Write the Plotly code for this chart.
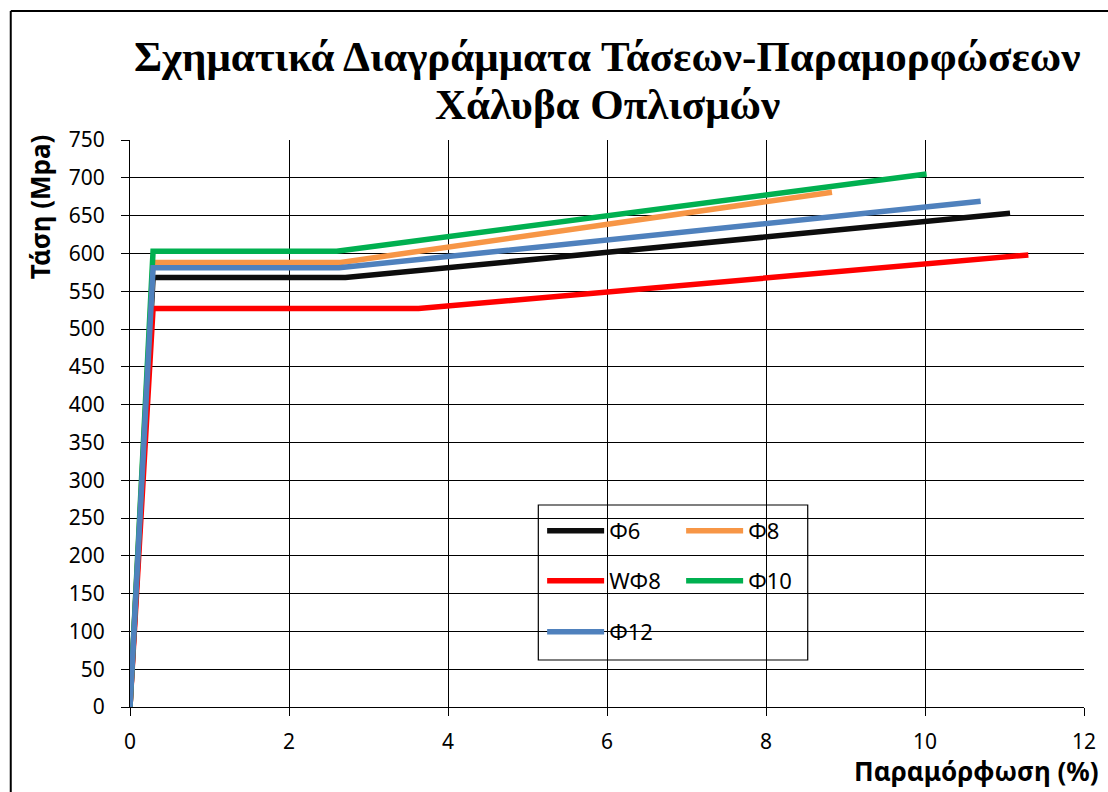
import plotly.graph_objects as go

# Stress-strain curves of reinforcing steel (bilinear with yield plateau)
series_names = ["Φ6", "Φ8", "WΦ8", "Φ10", "Φ12"]
series_colors = ["#0d0d0d", "#f79646", "#ff0000", "#00b050", "#4f81bd"]

# strain (%) at: origin, yield, end of plateau, ultimate
strain_phi6 = [0, 0.29, 2.71, 11.07]
strain_phi8 = [0, 0.29, 2.65, 8.83]
strain_wphi8 = [0, 0.29, 3.63, 11.30]
strain_phi10 = [0, 0.29, 2.60, 10.02]
strain_phi12 = [0, 0.29, 2.63, 10.70]

# stress (MPa) at the same points
stress_phi6 = [0, 568, 568, 653]
stress_phi8 = [0, 588, 588, 681]
stress_wphi8 = [0, 527, 527, 598]
stress_phi10 = [0, 603, 603, 705]
stress_phi12 = [0, 581, 581, 669]

x_ticks = [0, 2, 4, 6, 8, 10, 12]
y_ticks = list(range(0, 751, 50))

strains = [strain_phi6, strain_phi8, strain_wphi8, strain_phi10, strain_phi12]
stresses = [stress_phi6, stress_phi8, stress_wphi8, stress_phi10, stress_phi12]
legend_ids = ["legend", "legend", "legend2", "legend2", "legend3"]

FONT = "Noto Sans"

fig = go.Figure()
for name, color, xs, ys, lg in zip(series_names, series_colors, strains, stresses, legend_ids):
    fig.add_trace(go.Scatter(
        x=xs, y=ys, mode="lines", name=name,
        line=dict(color=color, width=5.5),
        legend=lg,
    ))

legend_common = dict(
    orientation="h", xanchor="left", yanchor="middle", x=0.432,
    bgcolor="rgba(0,0,0,0)", borderwidth=0,
    font=dict(family=FONT, size=22, color="#000000"),
    entrywidth=67, entrywidthmode="pixels", itemwidth=57,
)

fig.update_layout(
    width=1108, height=792,
    margin=dict(l=130, r=18, t=140, b=85),
    paper_bgcolor="white", plot_bgcolor="white",
    showlegend=True,
    legend=dict(legend_common, y=0.3104),
    legend2=dict(legend_common, y=0.2222),
    legend3=dict(legend_common, y=0.1323),
    xaxis=dict(
        range=[0, 12], tickvals=x_ticks, ticktext=[str(v) for v in x_ticks],
        showgrid=True, gridcolor="#000000", gridwidth=1,
        showline=True, linecolor="#000000", linewidth=1,
        ticks="outside", ticklen=8, tickcolor="#000000",
        ticklabelstandoff=8,
        tickfont=dict(family=FONT, size=21, color="#000000"),
        zeroline=False, mirror=False,
    ),
    yaxis=dict(
        range=[0, 750], tickvals=y_ticks, ticktext=[str(v) for v in y_ticks],
        showgrid=True, gridcolor="#000000", gridwidth=1,
        showline=True, linecolor="#000000", linewidth=1,
        ticks="outside", ticklen=8, tickcolor="#000000",
        ticklabelstandoff=12,
        tickfont=dict(family=FONT, size=21, color="#000000"),
        zeroline=False,
    ),
    annotations=[
        dict(text="<b>Σχηματικά Διαγράμματα Τάσεων-Παραμορφώσεων</b>",
             xref="paper", yref="paper", x=0.5, y=(707 - 57) / 567,
             xanchor="center", yanchor="middle", showarrow=False,
             font=dict(family="Liberation Serif", size=43, color="#000000")),
        dict(text="<b>Χάλυβα Οπλισμών</b>",
             xref="paper", yref="paper", x=0.5, y=(707 - 105) / 567,
             xanchor="center", yanchor="middle", showarrow=False,
             font=dict(family="Liberation Serif", size=43, color="#000000")),
        dict(text="<b>Τάση (Mpa)</b>", textangle=-90, xref="paper", yref="paper",
             x=-0.094, y=0.882, xanchor="center", yanchor="middle", showarrow=False,
             font=dict(family=FONT, size=26, color="#000000")),
        dict(text="<b>Παραμόρφωση (%)</b>", xref="paper", yref="paper",
             x=1.018, y=-0.112, xanchor="right", yanchor="middle", showarrow=False,
             font=dict(family=FONT, size=26, color="#000000")),
    ],
    shapes=[
        # legend frame
        dict(type="rect", xref="paper", yref="paper",
             x0=0.428, x1=0.7104, y0=0.0829, y1=0.3563,
             line=dict(color="#000000", width=1.2), fillcolor="white", layer="below"),
        # chart frame (left and top edges)
        dict(type="line", xref="paper", yref="paper", x0=-0.1250, x1=-0.1250, y0=-0.2, y1=1.2275,
             line=dict(color="#000000", width=2)),
        dict(type="line", xref="paper", yref="paper", x0=-0.1250, x1=1.05, y0=1.2275, y1=1.2275,
             line=dict(color="#000000", width=2)),
    ],
)

fig.write_html("out.html")
